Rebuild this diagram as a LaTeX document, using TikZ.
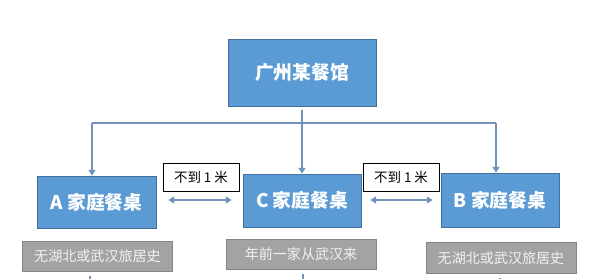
\documentclass[tikz,border=0pt]{standalone}
\usepackage{fontspec}
\newfontfamily\cjk{Noto Sans CJK SC}
\usetikzlibrary{arrows.meta}

\definecolor{boxblue}{HTML}{5B9BD5}
\definecolor{boxedge}{HTML}{41719C}
\definecolor{linkblue}{HTML}{6F93BC}
\definecolor{notegray}{HTML}{A3A3A3}
\definecolor{noteedge}{HTML}{858585}
\definecolor{notetext}{HTML}{F2F2F2}

\begin{document}
\begin{tikzpicture}[x=0.03cm, y=-0.03cm,
    every node/.style={inner sep=0pt, font=\cjk},
    bluebox/.style={rectangle, draw=boxedge, line width=0.6pt, fill=boxblue,
        text=white, font=\cjk\bfseries\fontsize{16}{18}\selectfont},
    distbox/.style={rectangle, draw=black, line width=0.6pt, fill=white,
        minimum width=2.28cm, minimum height=0.86cm, font=\cjk\fontsize{11.5}{13}\selectfont},
    graybox/.style={rectangle, draw=noteedge, line width=0.8pt, fill=notegray,
        text=notetext, minimum width=4.5cm, minimum height=0.92cm,
        font=\cjk\fontsize{12}{14}\selectfont},
    link/.style={draw=linkblue, line width=1.2pt},
    arr/.style={link, -{Triangle[length=5pt, width=6pt]}},
    dbl/.style={link, {Triangle[length=5pt, width=6pt]}-{Triangle[length=5pt, width=6pt]}}]

    \useasboundingbox (0,0) rectangle (609,279);

    % restaurant
    \node[bluebox, minimum width=4.44cm, minimum height=2.01cm] (top) at (302,72.5) {广州某餐馆};

    % tables
    \node[bluebox, minimum width=3.57cm, minimum height=1.56cm] (A) at (96.5,202) {A 家庭餐桌};
    \node[bluebox, minimum width=3.54cm, minimum height=1.59cm] (C) at (302,200.5) {C 家庭餐桌};
    \node[bluebox, minimum width=3.54cm, minimum height=1.62cm] (B) at (500,200) {B 家庭餐桌};

    % distances
    \node[distbox] (dAC) at (201,177.5) {不到 1 米};
    \node[distbox] (dCB) at (401,177.5) {不到 1 米};

    % travel history
    \node[graybox] (hA) at (97.5,256.5) {无湖北或武汉旅居史};
    \node[graybox] (hC) at (301,254.5) {年前一家从武汉来};
    \node[graybox] (hB) at (501,258) {无湖北或武汉旅居史};

    % bus line
    \coordinate (busL) at (92,123);
    \coordinate (busR) at (496,123);
    \draw[link] (busL) -- (busR);
    \draw[arr] (busL) -- (busL |- A.north);
    \draw[arr] (busR) -- (busR |- B.north);
    \draw[arr, shorten <=0.12cm] (top.south) -- (C.north);

    % neighbour arrows
    \draw[dbl, shorten <=0.36cm, shorten >=0.33cm] (A.east |- 0,200) -- (C.west |- 0,200);
    \draw[dbl, shorten <=0.27cm, shorten >=0.24cm] (C.east |- 0,200) -- (B.west |- 0,200);

    % cut-off links below
    \coordinate (endA) at (90,279);
    \coordinate (endC) at (303,279);
    \coordinate (endB) at (500,279);
    \draw[link, shorten <=0.12cm] (endA |- hA.south) -- (endA);
    \draw[link, shorten <=0.12cm] (endC |- hC.south) -- (endC);
    \draw[link, shorten <=0.12cm] (endB |- hB.south) -- (endB);

\end{tikzpicture}
\end{document}
